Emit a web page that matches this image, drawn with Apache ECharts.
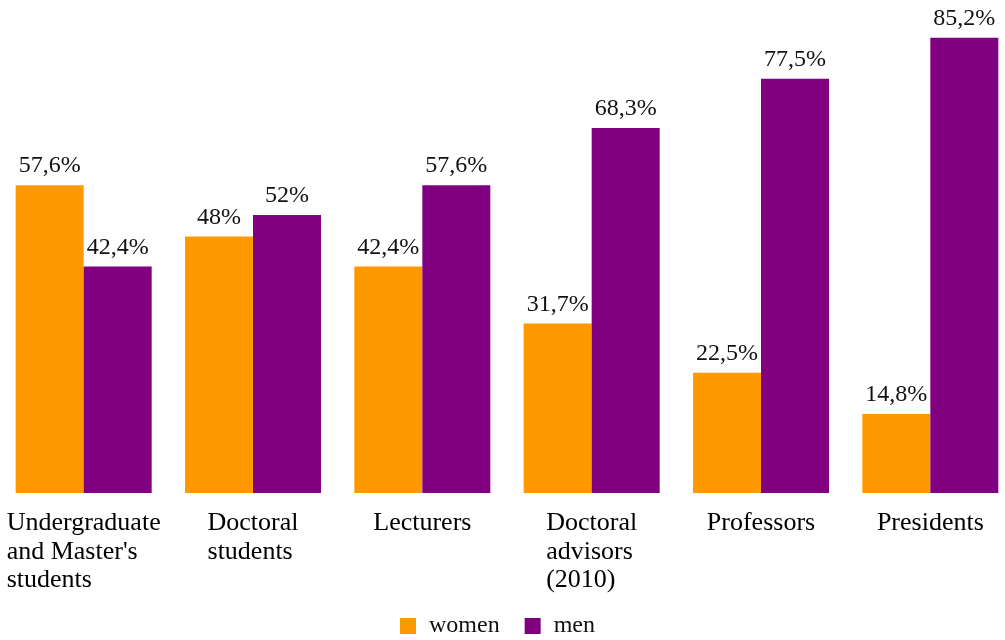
<!DOCTYPE html>
<html>
<head>
<meta charset="utf-8">
<script src="https://cdn.jsdelivr.net/npm/echarts@6/dist/echarts.min.js"></script>
<style>html,body{margin:0;padding:0;background:#fff;overflow:hidden}#c{width:1016px;height:640px;margin-left:-1px}</style>
</head>
<body>
<div id="c"></div>
<script>
var categories = ["Undergraduate\nand Master's\nstudents", "Doctoral\nstudents", "Lecturers", "Doctoral\nadvisors\n(2010)", "Professors", "Presidents"];
var women = [57.6, 48, 42.4, 31.7, 22.5, 14.8];
var men = [42.4, 52, 57.6, 68.3, 77.5, 85.2];
var seriesNames = ["women", "men"];

var FONT = "'Liberation Serif', 'Times New Roman', serif";
var chart = echarts.init(document.getElementById('c'));
function fmtVal(p) { return String(p.value).replace('.', ',') + '%'; }
var labelCfg = {
  show: true, position: 'top', distance: 7, formatter: fmtVal,
  fontFamily: FONT, fontSize: 24, color: '#111'
};
chart.setOption({
  animation: false,
  backgroundColor: '#fff',
  grid: { left: 0, right: 0, top: 12, height: 481, containLabel: false, outerBoundsMode: 'none' },
  legend: {
    data: seriesNames, left: 401, top: 614, padding: 0, itemGap: 25,
    itemWidth: 16, itemHeight: 16, icon: 'rect', selectedMode: false,
    textStyle: { fontFamily: FONT, fontSize: 24, color: '#111', padding: [0, 0, 0, 8] }
  },
  xAxis: {
    type: 'category', data: categories,
    axisLine: { show: false }, axisTick: { show: false },
    axisLabel: {
      interval: 0, margin: 16, align: 'center',
      formatter: function (v) { return v.split('\n').map(function (s) { return '{l|' + s + '}'; }).join('\n'); },
      rich: { l: { align: 'left', fontFamily: FONT, fontSize: 26, lineHeight: 28.5, color: '#000' } }
    }
  },
  yAxis: { type: 'value', min: 0, max: 90, show: false, splitLine: { show: false } },
  series: [
    { name: seriesNames[0], type: 'bar', data: women, barWidth: 68, barGap: '0%',
      itemStyle: { color: '#FF9900' }, label: labelCfg },
    { name: seriesNames[1], type: 'bar', data: men, barWidth: 68, barGap: '0%',
      itemStyle: { color: '#800080' }, label: labelCfg }
  ]
});
</script>
</body>
</html>
